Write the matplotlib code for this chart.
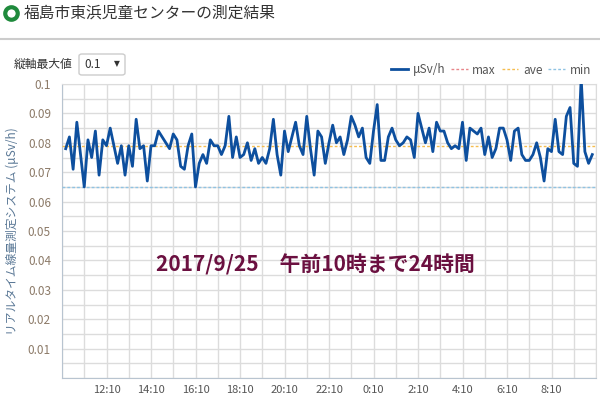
import numpy as np
import pandas as pd
import matplotlib
matplotlib.use("Agg")
import matplotlib.pyplot as plt
import matplotlib.dates as mdates
from matplotlib.lines import Line2D
from matplotlib.patches import FancyBboxPatch
from matplotlib.ticker import MultipleLocator, FuncFormatter

plt.rcParams['font.family'] = ['Noto Sans CJK JP', 'DejaVu Sans']

# readings every 10 minutes, 2017/9/24 10:20 .. 2017/9/25 10:00
times = pd.date_range('2017-09-24 10:20', '2017-09-25 10:00', freq='10min')
usv = [
    0.078, 0.082, 0.071, 0.087, 0.076, 0.065, 0.081, 0.075, 0.084, 0.069,
    0.081, 0.079, 0.085, 0.079, 0.073, 0.079, 0.069, 0.079, 0.072, 0.088,
    0.078, 0.079, 0.067, 0.079, 0.079, 0.084, 0.082, 0.080,
    0.078, 0.083, 0.081, 0.072, 0.071, 0.079, 0.083, 0.065, 0.073, 0.076,
    0.073, 0.081, 0.079, 0.079, 0.076, 0.079, 0.089, 0.075, 0.082, 0.075,
    0.076, 0.080, 0.074, 0.078, 0.073, 0.075, 0.073, 0.078, 0.088,
    0.076, 0.069, 0.084, 0.077, 0.082, 0.087, 0.079, 0.076, 0.089, 0.078,
    0.069, 0.084, 0.082, 0.073, 0.080, 0.086, 0.080, 0.082, 0.076, 0.081,
    0.089, 0.086, 0.082, 0.085, 0.075, 0.073, 0.084, 0.093,
    0.074, 0.074, 0.082, 0.085, 0.081, 0.079, 0.080, 0.082, 0.081, 0.075,
    0.090, 0.085, 0.080, 0.085, 0.077, 0.087, 0.084, 0.084, 0.080, 0.078,
    0.079, 0.078, 0.087, 0.074, 0.085, 0.084, 0.083, 0.085, 0.076,
    0.082, 0.075, 0.078, 0.085, 0.085, 0.081, 0.074, 0.084, 0.085, 0.076,
    0.074, 0.074, 0.076, 0.080, 0.075, 0.067, 0.078, 0.077, 0.088, 0.077,
    0.076, 0.089, 0.092, 0.073, 0.072, 0.102, 0.077, 0.073, 0.076,
]
max_val = 0.102
ave_val = 0.079
min_val = 0.065

fig = plt.figure(figsize=(6, 3.97), dpi=100)
ax = fig.add_axes([62/600, 1-378/397, 534/600, 294/397])

ax.plot(times, usv, color='#0d4f9e', lw=2.0, label='μSv/h', zorder=5)
ax.axhline(max_val, color='#e8868a', lw=1, ls=(0, (2, 1.5)), label='max', zorder=4)
ax.axhline(ave_val, color='#f5bd4f', lw=1, ls=(0, (2, 1.5)), label='ave', zorder=4)
ax.axhline(min_val, color='#8fc3e3', lw=1, ls=(0, (2, 1.5)), label='min', zorder=4)

ax.set_xlim(pd.Timestamp('2017-09-24 10:10'), pd.Timestamp('2017-09-25 10:10'))
ax.set_ylim(0, 0.1)

ticks = pd.date_range('2017-09-24 12:10', '2017-09-25 08:10', freq='2h')
ax.set_xticks(mdates.date2num(ticks.to_pydatetime()))
ax.xaxis.set_minor_locator(mdates.MinuteLocator(byminute=[10]))
ax.xaxis.set_major_formatter(FuncFormatter(
    lambda v, p: '%d:%02d' % (mdates.num2date(v).hour, mdates.num2date(v).minute)))

ax.yaxis.set_major_locator(MultipleLocator(0.01))
ax.yaxis.set_minor_locator(MultipleLocator(0.005))
ax.yaxis.set_major_formatter(FuncFormatter(lambda v, p: '' if v < 0.001 else ('%.2f' % v).rstrip('0')))

ax.grid(True, which='both', color='#dcdcdc', lw=1)
ax.set_axisbelow(True)
ax.tick_params(which='both', length=0)
ax.tick_params(axis='y', labelsize=8.5, labelcolor='#8c7a68', pad=8)
ax.tick_params(axis='x', labelsize=8, labelcolor='#555555', pad=5)
for s in ['top', 'right']:
    ax.spines[s].set_color('#dcdcdc')
for s in ['left', 'bottom']:
    ax.spines[s].set_color('#b8c4d0')

ax.set_ylabel('リアルタイム線量測定システム (μSv/h)', fontsize=8.5, color='#5a7896', labelpad=6)

ax.text(0.475, 0.385, '2017/9/25　午前10時まで24時間', transform=ax.transAxes,
        ha='center', va='center', fontsize=15, fontweight='bold', color='#6b1040')

leg = ax.legend(loc='center right', bbox_to_anchor=(597/600, 1-70/397),
                bbox_transform=fig.transFigure, ncol=4, frameon=False,
                fontsize=8.5, handlelength=1.4, handletextpad=0.4,
                columnspacing=0.5, borderpad=0)
for t in leg.get_texts():
    t.set_color('#555555')

# page header
fig.add_artist(Line2D([11/600], [1-13/397], marker='o', markersize=9,
                      markerfacecolor='white', markeredgecolor='#1f8a3c',
                      markeredgewidth=3, transform=fig.transFigure))
fig.text(24/600, 1-13/397, '福島市東浜児童センターの測定結果', fontsize=11.3,
         color='#333333', va='center')
fig.add_artist(Line2D([0, 1], [1-39/397, 1-39/397], color='#cccccc', lw=1.5,
                      transform=fig.transFigure))
fig.text(14/600, 1-64/397, '縦軸最大値', fontsize=8.5, color='#333333', va='center')
fig.add_artist(FancyBboxPatch((79/600, 1-75/397), 46/600, 21/397,
                              boxstyle='round,pad=0,rounding_size=0.005',
                              fc='white', ec='#cccccc', lw=1,
                              transform=fig.transFigure))
fig.text(84/600, 1-64/397, '0.1', fontsize=8.5, color='#333333', va='center')
fig.text(114/600, 1-64/397, '▼', fontsize=5.5, color='#333333', va='center',
         family=['DejaVu Sans'])

fig.savefig('out.png', dpi=100, facecolor='white')
